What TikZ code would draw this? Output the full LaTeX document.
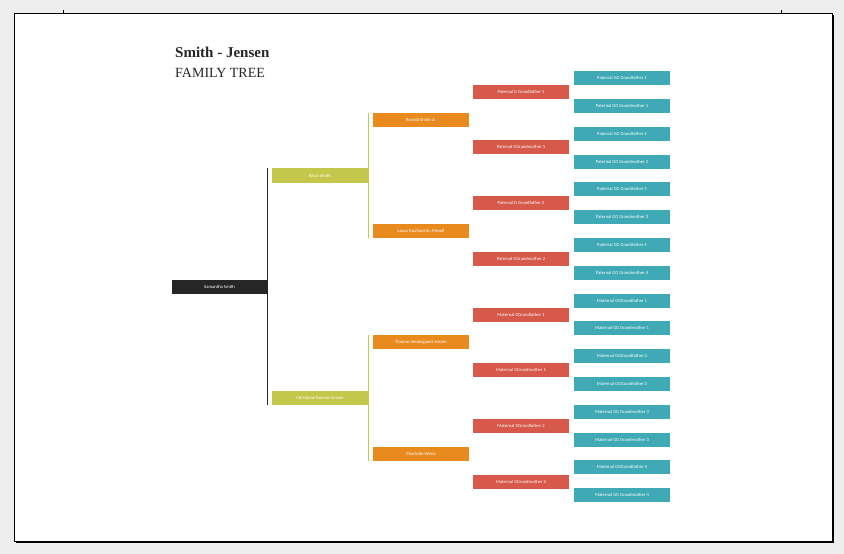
\documentclass[tikz,border=0pt]{standalone}
\usepackage{fontspec}
\setmainfont{Liberation Serif}
\newfontfamily\boxfont{Carlito}
\definecolor{pg}{HTML}{EEEEEE}
\definecolor{cblk}{HTML}{262626}
\definecolor{cyel}{HTML}{C4C84A}
\definecolor{cora}{HTML}{E88A1E}
\definecolor{cred}{HTML}{D6594A}
\definecolor{ctea}{HTML}{3FAAB5}
\tikzset{
 pbox/.style={minimum width=96pt,minimum height=14.5pt,inner sep=0pt,text=white,font=\boxfont\fontsize{4.6}{5}\selectfont},
 b0/.style={pbox,fill=cblk},
 b1/.style={pbox,fill=cyel},
 b2/.style={pbox,fill=cora},
 b3/.style={pbox,fill=cred},
 b4/.style={pbox,fill=ctea,minimum height=14pt},
}
\begin{document}
\begin{tikzpicture}[x=1pt,y=-1pt]
\fill[pg] (0,0) rectangle (844,554);
\fill[black] (16,15) rectangle (834,543);
\fill[white,draw=black,line width=1pt] (14,13) rectangle (832,541);
\draw (63,13) -- (63,10);
\draw (781,13) -- (781,10);
\node[anchor=base west,font=\bfseries\fontsize{15}{17}\selectfont,text=cblk,inner sep=0pt] (t1) at (175,57) {Smith - Jensen};
\node[anchor=base west,font=\fontsize{14}{16}\selectfont,text=cblk,inner sep=0pt] (t2) at (175,77) {FAMILY TREE};

\node[b0] (sam) at (219.5,287) {Samantha Smith};
\node[b1] (bri) at (320,175.5) {Brian Smith};
\node[b1] (chr) at (320,398) {Christiane Barrow Jensen};
\node[b2] (ron) at (421,120) {Ronald Smith Jr.};
\node[b2] (lau) at (421,231) {Laura Goullard du Mesnil};
\node[b2] (tho) at (421,342) {Thomas Sindargaard Jensen};
\node[b2] (cha) at (421,454) {Charlotte Weiss};
\node[b3] (r1) at (521,92) {Paternal G Grandfather 1};
\node[b3] (r2) at (521,147) {Paternal GGrandmother 1};
\node[b3] (r3) at (521,203) {Paternal G Grandfather 2};
\node[b3] (r4) at (521,259) {Paternal GGrandmother 2};
\node[b3] (r5) at (521,315) {Maternal GGrandfather 1};
\node[b3] (r6) at (521,370) {Maternal GGrandmother 1};
\node[b3] (r7) at (521,426) {Maternal GGrandfather 2};
\node[b3] (r8) at (521,482) {Maternal GGrandmother 2};
\node[b4] (g1) at (622,78) {Paternal GG Grandfather 1};
\node[b4] (g2) at (622,106) {Paternal GG Grandmother 1};
\node[b4] (g3) at (622,134) {Paternal GG Grandfather 2};
\node[b4] (g4) at (622,162) {Paternal GG Grandmother 2};
\node[b4] (g5) at (622,189) {Paternal GG Grandfather 3};
\node[b4] (g6) at (622,217) {Paternal GG Grandmother 3};
\node[b4] (g7) at (622,245) {Paternal GG Grandfather 4};
\node[b4] (g8) at (622,273) {Paternal GG Grandmother 4};
\node[b4] (g9) at (622,301) {Maternal GGGrandfather 1};
\node[b4] (g10) at (622,328) {Maternal GG Grandmother 1};
\node[b4] (g11) at (622,356) {Maternal GGGrandfather 2};
\node[b4] (g12) at (622,384) {Maternal GGGrandfather 3};
\node[b4] (g13) at (622,412) {Maternal GG Grandmother 3};
\node[b4] (g14) at (622,440) {Maternal GG Grandmother 3};
\node[b4] (g15) at (622,467) {Maternal GGGrandfather 4};
\node[b4] (g16) at (622,495) {Maternal GG Grandmother 4};

\draw[cblk,line width=1.2pt] (sam.east) ++(0.5,0) coordinate (s1);
\draw[cblk,line width=1.2pt] (bri.north west) ++(-4,0) -- ([xshift=-4pt]chr.south west);
\draw[cyel,line width=1.2pt] ([xshift=0.5pt]ron.north west) ++(-5,0) -- ([xshift=-4.5pt]lau.south west);
\draw[cyel,line width=1.2pt] ([xshift=0.5pt]tho.north west) ++(-5,0) -- ([xshift=-4.5pt]cha.south west);
\end{tikzpicture}
\end{document}
